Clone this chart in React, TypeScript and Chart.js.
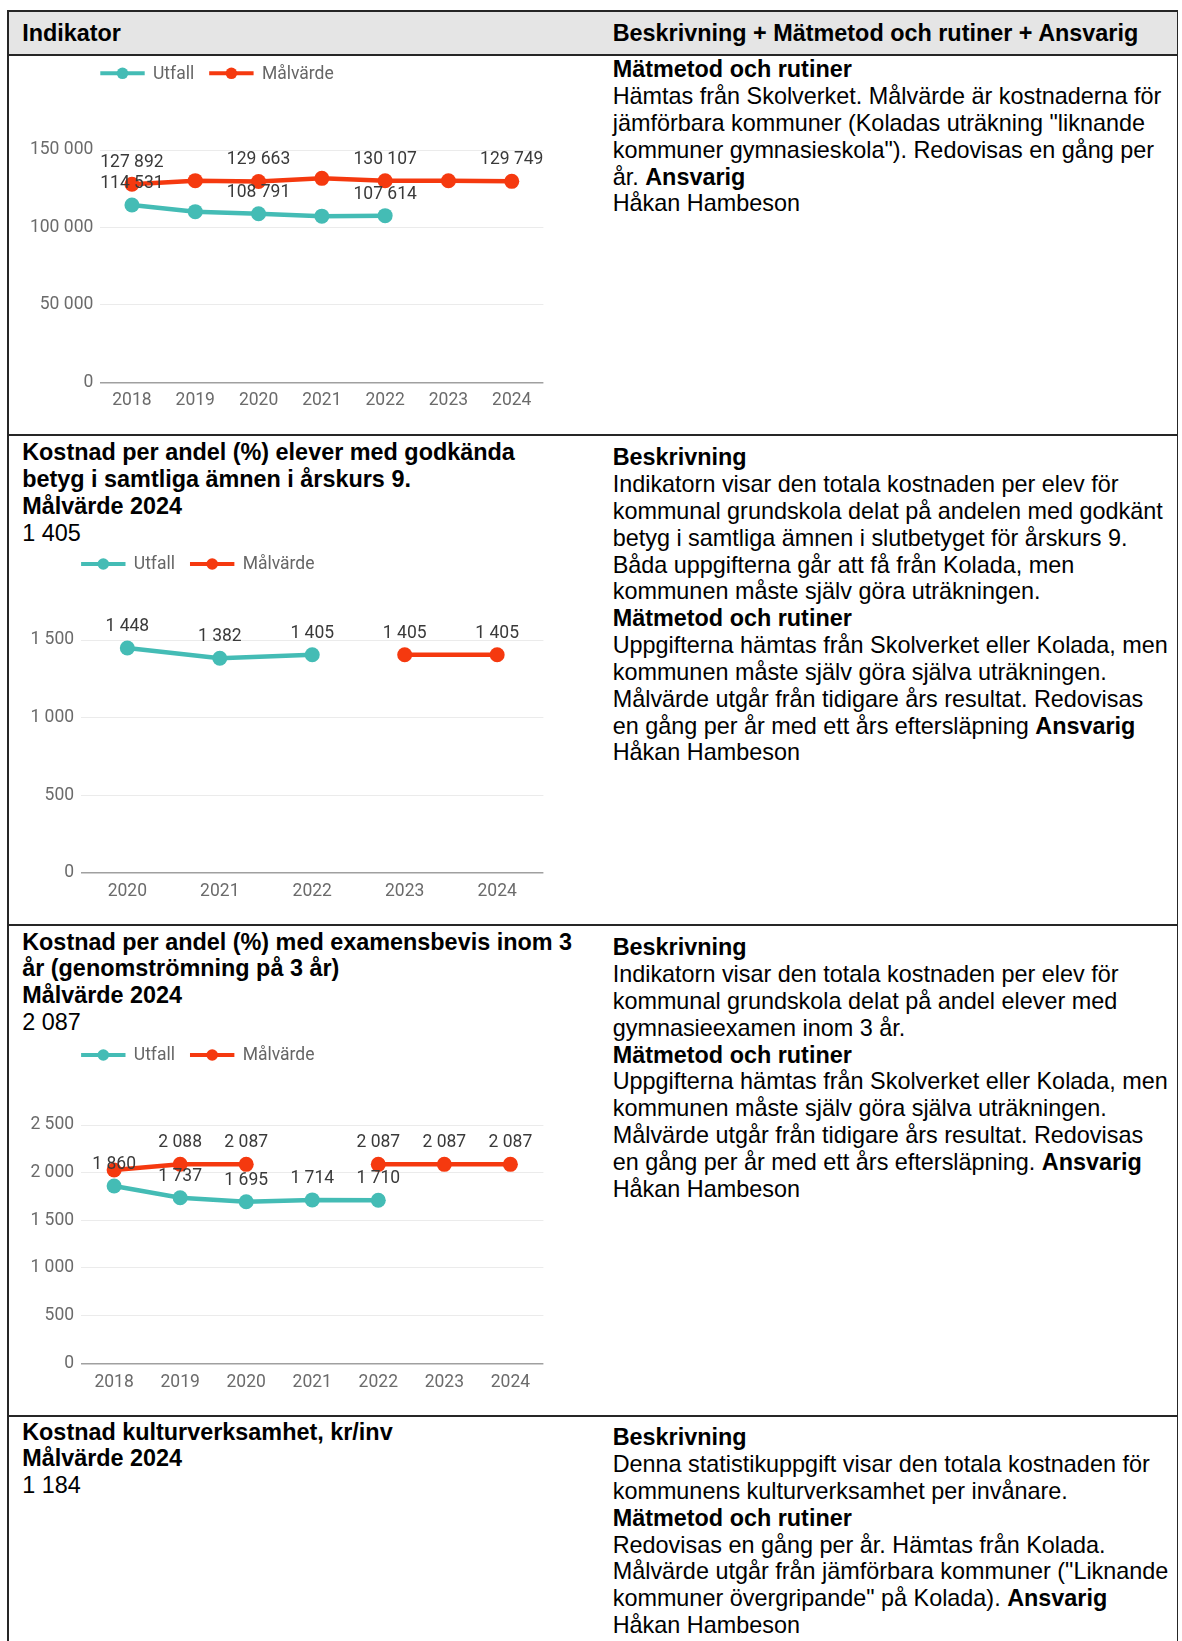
import React, { useEffect, useRef } from "react";
import { Chart, registerables } from "chart.js";

Chart.register(...registerables);

// ---------- data ----------
const UTFALL_NAME = "Utfall";
const MAL_NAME = "Målvärde";

// Chart 1
const years1 = ["2018", "2019", "2020", "2021", "2022", "2023", "2024"];
const utfall1 = [114531, 110200, 108791, 107300, 107614, null, null];
const mal1 = [127892, 130200, 129663, 131700, 130107, 130100, 129749];
const utfallLabelIdx1 = [0, 2, 4];
const malLabelIdx1 = [0, 2, 4, 6];
const yMax1 = 150000;
const yStep1 = 50000;

// Chart 2
const years2 = ["2020", "2021", "2022", "2023", "2024"];
const utfall2 = [1448, 1382, 1405, null, null];
const mal2 = [null, null, null, 1405, 1405];
const utfallLabelIdx2 = [0, 1, 2];
const malLabelIdx2 = [3, 4];
const yMax2 = 1500;
const yStep2 = 500;

// Chart 3
const years3 = ["2018", "2019", "2020", "2021", "2022", "2023", "2024"];
const utfall3 = [1860, 1737, 1695, 1714, 1710, null, null];
const mal3 = [2028, 2088, 2087, null, 2087, 2087, 2087];
const utfallLabelIdx3 = [0, 1, 2, 3, 4];
const malLabelIdx3 = [1, 2, 4, 5, 6];
const yMax3 = 2500;
const yStep3 = 500;

// ---------- styles ----------
const UTFALL_COLOR = "#44bcb5";
const MAL_COLOR = "#f5390f";
const TICK_COLOR = "#6b6b6b";
const LABEL_COLOR = "#3a3a3a";
const CHART_FONT = "Roboto";
const CHART_FONT_SIZE = 17.5;

const fmt = (n: number) =>
  Math.round(n)
    .toString()
    .replace(/\B(?=(\d{3})+(?!\d))/g, " ");

function legendPlugin(legendY: number) {
  return {
    id: "customLegend",
    afterDraw(chart: any) {
      const ctx = chart.ctx;
      ctx.save();
      ctx.font = `${CHART_FONT_SIZE}px ${CHART_FONT}`;
      ctx.textBaseline = "middle";
      let x = chart.chartArea.left;
      chart.data.datasets.forEach((ds: any) => {
        const w = 44.4;
        ctx.strokeStyle = ds.borderColor;
        ctx.lineWidth = 4;
        ctx.beginPath();
        ctx.moveTo(x, legendY);
        ctx.lineTo(x + w, legendY);
        ctx.stroke();
        ctx.fillStyle = ds.borderColor;
        ctx.beginPath();
        ctx.arc(x + w / 2, legendY, 5.8, 0, Math.PI * 2);
        ctx.fill();
        ctx.fillStyle = "#666666";
        ctx.textAlign = "left";
        const tx = x + w + 8.3;
        ctx.fillText(ds.label, tx, legendY + 1);
        x = tx + ctx.measureText(ds.label).width + 15;
      });
      ctx.restore();
    },
  };
}

function labelPlugin(labelIdx: number[][]) {
  return {
    id: "customLabels",
    afterDatasetsDraw(chart: any) {
      const ctx = chart.ctx;
      ctx.save();
      ctx.font = `${CHART_FONT_SIZE}px ${CHART_FONT}`;
      ctx.textBaseline = "middle";
      ctx.textAlign = "center";
      ctx.fillStyle = LABEL_COLOR;
      chart.data.datasets.forEach((ds: any, i: number) => {
        const meta = chart.getDatasetMeta(i);
        (labelIdx[i] || []).forEach((idx) => {
          const v = ds.data[idx];
          const el = meta.data[idx];
          if (v == null || !el) return;
          ctx.fillText(fmt(v), el.x, el.y - 21.5);
        });
      });
      ctx.restore();
    },
  };
}

type ChartProps = {
  left: number;
  top: number;
  width: number;
  height: number;
  plotLeft: number;
  plotRight: number;
  plotTop: number;
  plotBottom: number;
  legendY: number;
  xPad: number;
  labels: string[];
  utfall: (number | null)[];
  mal: (number | null)[];
  labelIdx: number[][];
  yMax: number;
  yStep: number;
};

function LineChart(p: ChartProps) {
  const ref = useRef<HTMLCanvasElement>(null);
  useEffect(() => {
    const mk = (label: string, data: (number | null)[], color: string) => ({
      label,
      data,
      borderColor: color,
      backgroundColor: color,
      borderWidth: 4.5,
      pointRadius: 7.5,
      pointHoverRadius: 7.5,
      pointBorderWidth: 0,
      pointBackgroundColor: color,
      tension: 0,
      spanGaps: false,
    });
    const chart = new Chart(ref.current as HTMLCanvasElement, {
      type: "line",
      data: {
        labels: p.labels,
        datasets: [
          mk(UTFALL_NAME, p.utfall, UTFALL_COLOR),
          mk(MAL_NAME, p.mal, MAL_COLOR),
        ],
      },
      options: {
        responsive: false,
        animation: false,
        devicePixelRatio: 1,
        layout: {
          padding: {
            top: p.plotTop,
            right: p.width - p.plotRight,
            left: 0,
            bottom: 0,
          },
        },
        plugins: {
          legend: { display: false },
          tooltip: { enabled: false },
          title: { display: false },
        },
        scales: {
          x: {
            type: "category",
            offset: true,
            grid: { display: false, drawTicks: false },
            border: { display: false },
            ticks: {
              color: TICK_COLOR,
              font: { family: CHART_FONT, size: CHART_FONT_SIZE },
              padding: p.xPad,
              maxRotation: 0,
              autoSkip: false,
            },
            afterFit: (s: any) => {
              s.height = p.height - p.plotBottom;
            },
          },
          y: {
            min: 0,
            max: p.yMax,
            ticks: {
              stepSize: p.yStep,
              color: TICK_COLOR,
              font: { family: CHART_FONT, size: CHART_FONT_SIZE },
              padding: 7,
              callback: (v: any) => fmt(Number(v)),
            },
            grid: {
              drawTicks: false,
              color: (c: any) => (c.tick && c.tick.value === 0 ? "#a0a0a0" : "#ebebeb"),
              lineWidth: (c: any) => (c.tick && c.tick.value === 0 ? 1.5 : 1),
            },
            border: { display: false },
            afterFit: (s: any) => {
              s.width = p.plotLeft;
            },
          },
        },
      } as any,
      plugins: [legendPlugin(p.legendY), labelPlugin(p.labelIdx)],
    });
    return () => chart.destroy();
  }, []);
  return (
    <canvas
      ref={ref}
      width={p.width}
      height={p.height}
      style={{
        position: "absolute",
        left: p.left,
        top: p.top,
        width: p.width,
        height: p.height,
      }}
    />
  );
}

// ---------- text ----------
type Seg = [string, boolean];
const FONT = "'Liberation Sans', Arial, sans-serif";
const FS = 23.4;
const LH = 26.85;

function TextBlock({ left, top, lines }: { left: number; top: number; lines: Seg[][] }) {
  return (
    <div
      style={{
        position: "absolute",
        left,
        top,
        fontFamily: FONT,
        fontSize: FS,
        lineHeight: `${LH}px`,
        color: "#000",
        whiteSpace: "nowrap",
      }}
    >
      {lines.map((ln, i) => (
        <div key={i}>
          {ln.map(([t, b], j) => (
            <span key={j} style={{ fontWeight: b ? "bold" : "normal" }}>
              {t}
            </span>
          ))}
        </div>
      ))}
    </div>
  );
}

const n = (t: string): Seg[] => [[t, false]];
const b = (t: string): Seg[] => [[t, true]];

const row1Right: Seg[][] = [
  b("Mätmetod och rutiner"),
  n("Hämtas från Skolverket. Målvärde är kostnaderna för"),
  n('jämförbara kommuner (Koladas uträkning "liknande'),
  n('kommuner gymnasieskola"). Redovisas en gång per'),
  [["år. ", false], ["Ansvarig", true]],
  n("Håkan Hambeson"),
];

const row2Left: Seg[][] = [
  b("Kostnad per andel (%) elever med godkända"),
  b("betyg i samtliga ämnen i årskurs 9."),
  b("Målvärde 2024"),
  n("1 405"),
];

const row2Right: Seg[][] = [
  b("Beskrivning"),
  n("Indikatorn visar den totala kostnaden per elev för"),
  n("kommunal grundskola delat på andelen med godkänt"),
  n("betyg i samtliga ämnen i slutbetyget för årskurs 9."),
  n("Båda uppgifterna går att få från Kolada, men"),
  n("kommunen måste själv göra uträkningen."),
  b("Mätmetod och rutiner"),
  n("Uppgifterna hämtas från Skolverket eller Kolada, men"),
  n("kommunen måste själv göra själva uträkningen."),
  n("Målvärde utgår från tidigare års resultat. Redovisas"),
  [["en gång per år med ett års eftersläpning ", false], ["Ansvarig", true]],
  n("Håkan Hambeson"),
];

const row3Left: Seg[][] = [
  b("Kostnad per andel (%) med examensbevis inom 3"),
  b("år (genomströmning på 3 år)"),
  b("Målvärde 2024"),
  n("2 087"),
];

const row3Right: Seg[][] = [
  b("Beskrivning"),
  n("Indikatorn visar den totala kostnaden per elev för"),
  n("kommunal grundskola delat på andel elever med"),
  n("gymnasieexamen inom 3 år."),
  b("Mätmetod och rutiner"),
  n("Uppgifterna hämtas från Skolverket eller Kolada, men"),
  n("kommunen måste själv göra själva uträkningen."),
  n("Målvärde utgår från tidigare års resultat. Redovisas"),
  [["en gång per år med ett års eftersläpning. ", false], ["Ansvarig", true]],
  n("Håkan Hambeson"),
];

const row4Left: Seg[][] = [
  b("Kostnad kulturverksamhet, kr/inv"),
  b("Målvärde 2024"),
  n("1 184"),
];

const row4Right: Seg[][] = [
  b("Beskrivning"),
  n("Denna statistikuppgift visar den totala kostnaden för"),
  n("kommunens kulturverksamhet per invånare."),
  b("Mätmetod och rutiner"),
  n("Redovisas en gång per år. Hämtas från Kolada."),
  n('Målvärde utgår från jämförbara kommuner ("Liknande'),
  [['kommuner övergripande" på Kolada). ', false], ["Ansvarig", true]],
  n("Håkan Hambeson"),
];

const BASE = 21.5; // baseline offset inside a line box
const LEFT_X = 22.2;
const RIGHT_X = 612.7;
const LINE_COLOR = "#262626";

function HLine({ y, w = 1.5 }: { y: number; w?: number }) {
  return (
    <div
      style={{
        position: "absolute",
        left: 7,
        top: y - w / 2,
        width: 1177.5 - 7,
        height: w,
        background: LINE_COLOR,
      }}
    />
  );
}

export default function App() {
  return (
    <div
      style={{
        position: "absolute",
        left: 0,
        top: 0,
        width: 1182,
        height: 1641,
        overflow: "hidden",
        background: "#fff",
      }}
    >
      {/* header background */}
      <div
        style={{
          position: "absolute",
          left: 7,
          top: 11,
          width: 1177.5 - 7,
          height: 44,
          background: "#e5e5e5",
        }}
      />
      <HLine y={11} w={2} />
      <HLine y={55} w={2} />
      <HLine y={435} />
      <HLine y={925} />
      <HLine y={1416} />
      {/* vertical borders */}
      <div style={{ position: "absolute", left: 7, top: 10, width: 1.5, height: 1641, background: LINE_COLOR }} />
      <div style={{ position: "absolute", left: 1176.5, top: 10, width: 1.5, height: 1641, background: LINE_COLOR }} />

      <TextBlock left={LEFT_X} top={41.7 - BASE} lines={[b("Indikator")]} />
      <TextBlock left={RIGHT_X} top={41.7 - BASE} lines={[b("Beskrivning + Mätmetod och rutiner + Ansvarig")]} />

      <TextBlock left={RIGHT_X} top={77.7 - BASE} lines={row1Right} />
      <TextBlock left={LEFT_X} top={460.7 - BASE} lines={row2Left} />
      <TextBlock left={RIGHT_X} top={465.7 - BASE} lines={row2Right} />
      <TextBlock left={LEFT_X} top={950 - BASE} lines={row3Left} />
      <TextBlock left={RIGHT_X} top={955.7 - BASE} lines={row3Right} />
      <TextBlock left={LEFT_X} top={1440 - BASE} lines={row4Left} />
      <TextBlock left={RIGHT_X} top={1445.7 - BASE} lines={row4Right} />

      <LineChart
        left={20}
        top={58}
        width={545}
        height={362}
        plotLeft={80.3}
        plotRight={523.4}
        plotTop={92}
        plotBottom={324.3}
        legendY={15.3}
        xPad={8}
        labels={years1}
        utfall={utfall1}
        mal={mal1}
        labelIdx={[utfallLabelIdx1, malLabelIdx1]}
        yMax={yMax1}
        yStep={yStep1}
      />
      <LineChart
        left={20}
        top={548}
        width={545}
        height={372}
        plotLeft={61.1}
        plotRight={523.4}
        plotTop={92}
        plotBottom={324.7}
        legendY={16}
        xPad={8.5}
        labels={years2}
        utfall={utfall2}
        mal={mal2}
        labelIdx={[utfallLabelIdx2, malLabelIdx2]}
        yMax={yMax2}
        yStep={yStep2}
      />
      <LineChart
        left={20}
        top={1039}
        width={545}
        height={372}
        plotLeft={61.1}
        plotRight={523.4}
        plotTop={86}
        plotBottom={324.3}
        legendY={16}
        xPad={8.9}
        labels={years3}
        utfall={utfall3}
        mal={mal3}
        labelIdx={[utfallLabelIdx3, malLabelIdx3]}
        yMax={yMax3}
        yStep={yStep3}
      />
    </div>
  );
}
